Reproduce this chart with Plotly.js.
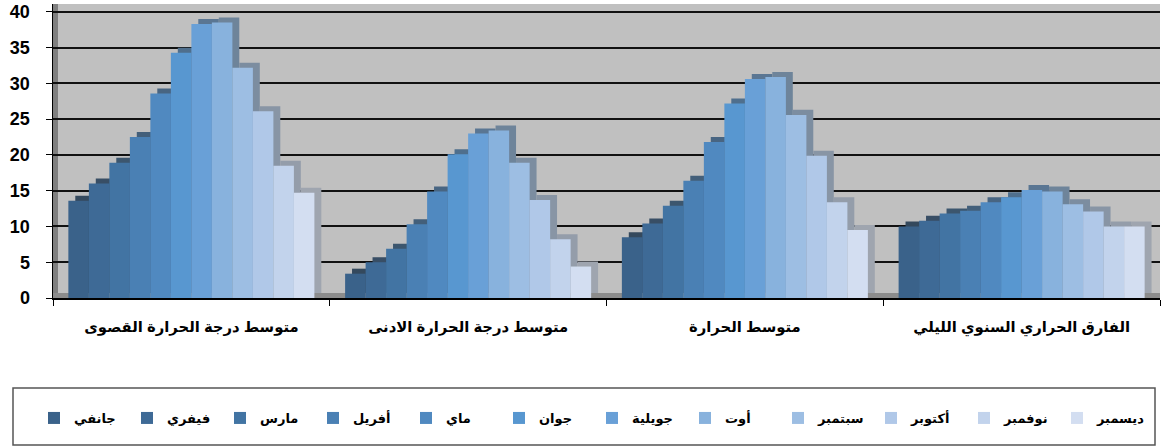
<!DOCTYPE html>
<html>
<head>
<meta charset="utf-8">
<script src="https://cdn.plot.ly/plotly-3.0.1.min.js"></script>
<style>
  html, body { margin: 0; padding: 0; background: #ffffff; }
  #chart { width: 1161px; height: 448px; }
</style>
</head>
<body>
<div id="chart"></div>
<script>
// Category labels (x axis), left to right as in the reference
const categories = [
  'متوسط درجة الحرارة القصوى',
  'متوسط درجة الحرارة الادنى',
  'متوسط الحرارة',
  'الفارق الحراري السنوي الليلي'
];
// Series names (months)
const months = ['جانفي','فيفري','مارس','أفريل','ماي','جوان','جويلية','أوت','سبتمبر','أكتوبر','نوفمبر','ديسمبر'];

// Values per category, one per month
const maxTemp    = [13.6, 16.0, 18.9, 22.5, 28.6, 34.3, 38.3, 38.5, 32.2, 26.1, 18.5, 14.7];
const minTemp    = [3.4, 5.0, 6.9, 10.3, 14.9, 20.1, 23.0, 23.4, 18.9, 13.7, 8.2, 4.4];
const meanTemp   = [8.5, 10.4, 12.9, 16.4, 21.8, 27.2, 30.6, 30.9, 25.6, 19.9, 13.4, 9.5];
const nightRange = [10.0, 10.8, 11.8, 12.2, 13.4, 14.1, 15.1, 14.9, 13.1, 12.1, 10.0, 10.0];

const yTicks = [0, 5, 10, 15, 20, 25, 30, 35, 40];

// Styles
const colors = ['#3A628A','#3E6A96','#4274A3','#4A80B4','#5089C0','#5897D0',
                '#69A0D7','#88B2DD','#9DBEE3','#B0C8E8','#C2D3EC','#D3DEF1'];

function shade(hex, f, g) {
  const r = parseInt(hex.slice(1,3),16), gg = parseInt(hex.slice(3,5),16), b = parseInt(hex.slice(5,7),16);
  const gray = (r + gg + b) / 3;
  const mix = c => Math.round((c * (1 - g) + gray * g) * f);
  return 'rgb(' + mix(r) + ',' + mix(gg) + ',' + mix(b) + ')';
}

const xIdx = categories.map((c, i) => i);
const groupWidth = 0.889;
const barW = groupWidth / months.length;
const depthX = 0.025;   // 3D depth shift (category units)
const depthY = 0.7;     // 3D depth shift (value units)

const fontFamily = '"Liberation Sans", Arial, "DejaVu Sans", sans-serif';

const traces = [];
// 3D "depth" faces, drawn first (behind)
months.forEach((m, j) => {
  const vals = [maxTemp[j], minTemp[j], meanTemp[j], nightRange[j]];
  traces.push({
    type: 'bar', x: xIdx, y: vals, base: depthY,
    offset: -groupWidth / 2 + j * barW + depthX, width: barW,
    marker: { color: shade(colors[j], 0.74, 0.3), line: { width: 0 } },
    showlegend: false, hoverinfo: 'skip'
  });
});
// Front faces
months.forEach((m, j) => {
  const vals = [maxTemp[j], minTemp[j], meanTemp[j], nightRange[j]];
  traces.push({
    type: 'bar', name: m, x: xIdx, y: vals,
    offset: -groupWidth / 2 + j * barW, width: barW,
    marker: { color: colors[j], line: { width: 0 } },
    hoverinfo: 'name+y'
  });
});

const L = 53, R = 1, T = 4, B = 150;
const W = 1161, H = 448;
const pw = W - L - R, ph = H - T - B;
const px = v => (v - L) / pw;          // pixel -> paper x
const py = v => (H - B - v) / ph;      // pixel -> paper y

const layout = {
  width: W, height: H,
  margin: { l: L, r: R, t: T, b: B },
  paper_bgcolor: '#ffffff',
  plot_bgcolor: '#c0c0c0',
  barmode: 'overlay',
  font: { family: fontFamily, color: '#000000' },
  xaxis: {
    range: [-0.5, 3.5],
    tickmode: 'array', tickvals: xIdx, ticktext: categories,
    ticks: '', showgrid: false, zeroline: false,
    showline: true, linecolor: '#000000', linewidth: 1.5,
    tickfont: { size: 14.8, weight: 'bold', family: fontFamily, color: '#000000' },
    ticklabelstandoff: 15,
    minor: { tickvals: [-0.5, 0.5, 1.5, 2.5, 3.5], ticks: 'outside', ticklen: 6, tickcolor: '#000000', tickwidth: 1, showgrid: false },
    fixedrange: true
  },
  yaxis: {
    range: [0, 41.1],
    tickmode: 'array', tickvals: yTicks,
    ticks: 'outside', ticklen: 6, tickcolor: '#000000', tickwidth: 1,
    showgrid: true, gridcolor: '#111111', gridwidth: 2,
    zeroline: false,
    showline: true, linecolor: '#000000', linewidth: 1.5,
    tickfont: { size: 18, weight: 'bold', family: fontFamily, color: '#000000' },
    ticklabelstandoff: 12,
    fixedrange: true
  },
  showlegend: true,
  legend: {
    orientation: 'h',
    x: px(34), xanchor: 'left',
    y: py(418), yanchor: 'middle',
    entrywidth: 48, entrywidthmode: 'pixels',
    font: { size: 13, weight: 'bold', family: fontFamily, color: '#000000' },
    bgcolor: 'rgba(0,0,0,0)', borderwidth: 0,
    traceorder: 'normal', itemclick: false, itemdoubleclick: false
  },
  shapes: [
    // left wall of the 3D box
    { type: 'rect', xref: 'paper', yref: 'paper', x0: 0, x1: px(58), y0: 0, y1: 1,
      fillcolor: '#7f7f7f', line: { width: 0 }, layer: 'below' },
    // floor band
    { type: 'rect', xref: 'paper', yref: 'paper', x0: 0, x1: 1, y0: 0, y1: py(293),
      fillcolor: '#8c8c8c', line: { width: 0 }, layer: 'below' },
    // legend frame
    { type: 'rect', xref: 'paper', yref: 'paper', x0: px(13), x1: px(1155), y0: py(388), y1: py(445),
      fillcolor: 'rgba(0,0,0,0)', line: { color: '#555555', width: 1.5 } }
  ]
};

Plotly.newPlot('chart', traces, layout, { displayModeBar: false, staticPlot: true });
</script>
</body>
</html>
